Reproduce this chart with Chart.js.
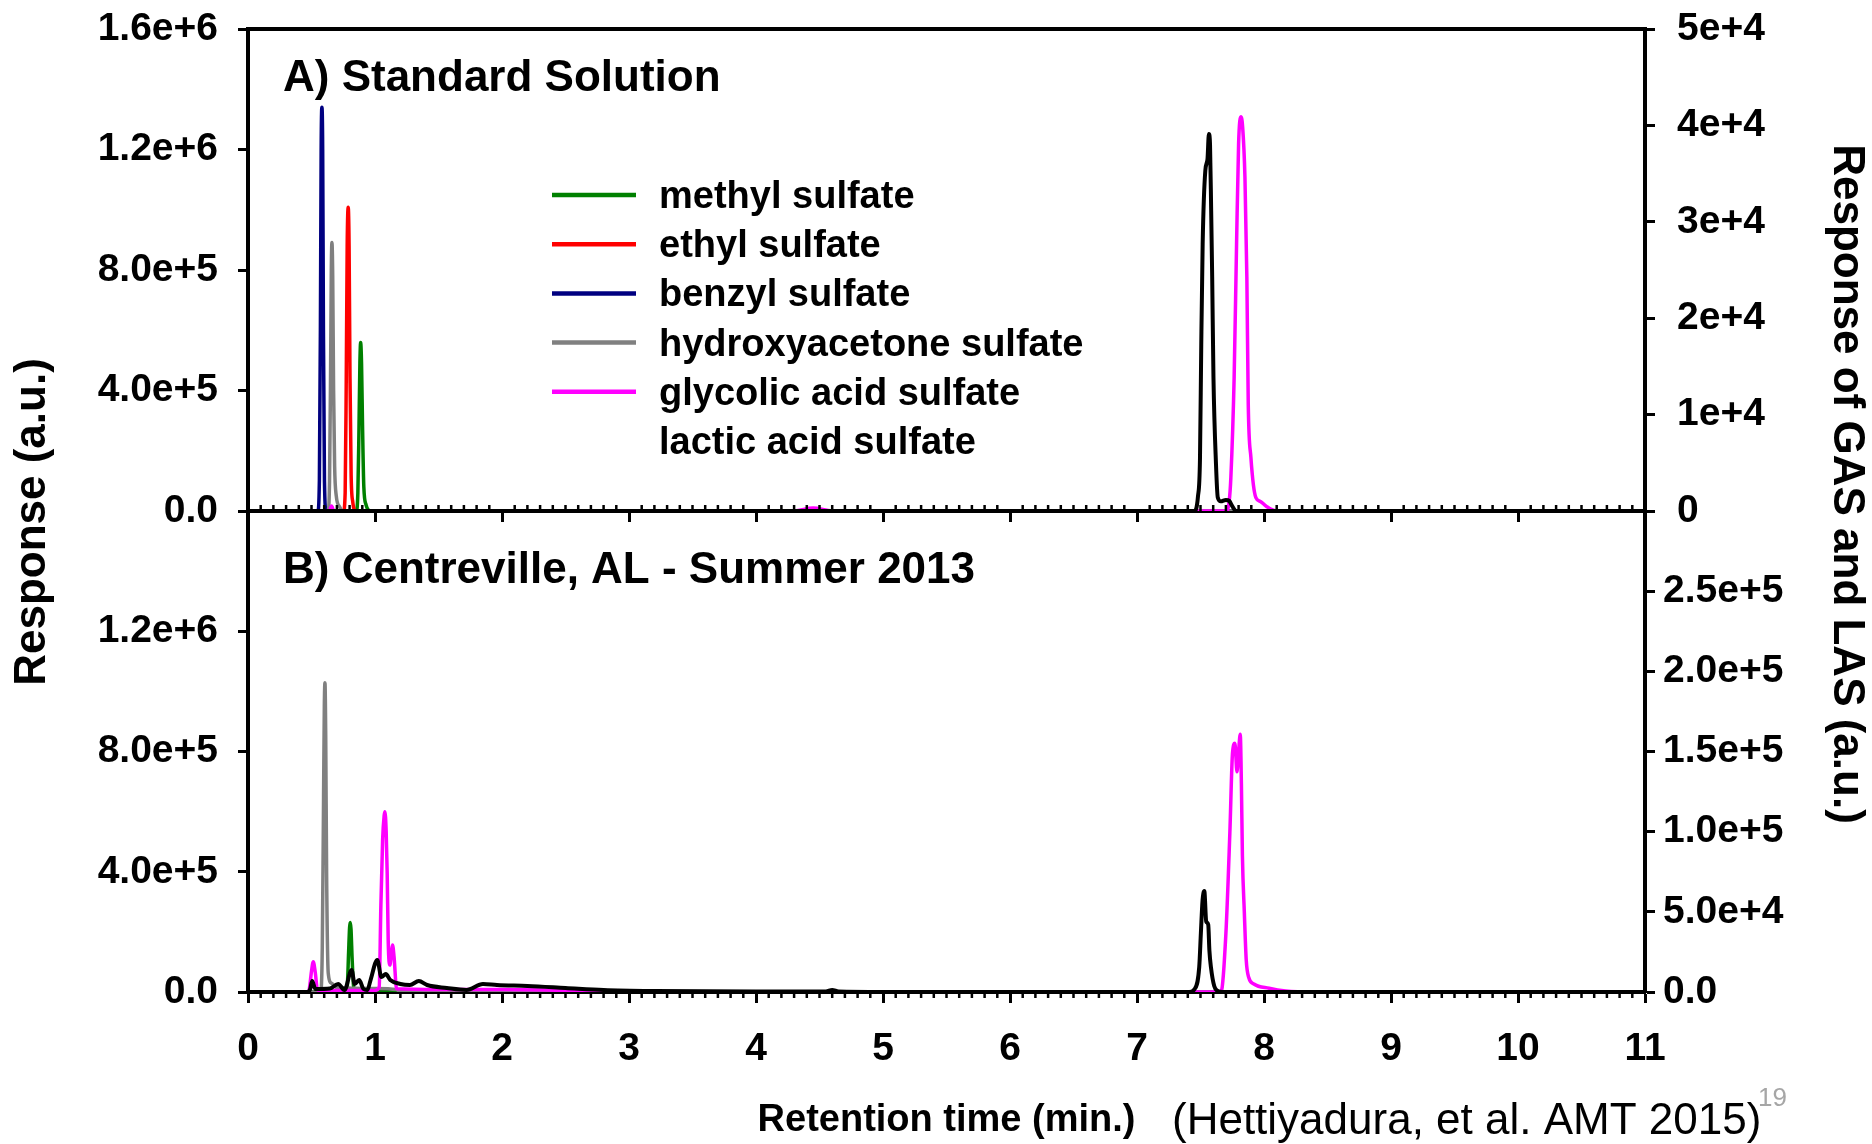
<!DOCTYPE html>
<html>
<head>
<meta charset="utf-8">
<script src="https://cdn.jsdelivr.net/npm/chart.js@4.4.1/dist/chart.umd.min.js"></script>
<style>
  html, body { margin: 0; padding: 0; background: #fff; }
  #wrap { position: relative; width: 1872px; height: 1144px; }
  canvas { position: absolute; left: 0; top: 0; }
</style>
</head>
<body>
<div id="wrap">
  <canvas id="panelA" width="1872" height="1144"></canvas>
  <canvas id="panelB" width="1872" height="1144"></canvas>
</div>
<script>
// compounds, colours and tick labels
const compounds = ['methyl sulfate', 'ethyl sulfate', 'benzyl sulfate', 'hydroxyacetone sulfate', 'glycolic acid sulfate', 'lactic acid sulfate'];
const colors = ['#008000', '#ff0000', '#000080', '#808080', '#ff00ff', '#000000'];
const legendLine = [true, true, true, true, true, false];

const xTickLabels = ['0', '1', '2', '3', '4', '5', '6', '7', '8', '9', '10', '11'];
const leftTickLabelsA = ['0.0', '4.0e+5', '8.0e+5', '1.2e+6', '1.6e+6'];
const leftTickLabelsB = ['0.0', '4.0e+5', '8.0e+5', '1.2e+6', ''];
const rightTickLabelsA = ['0', '1e+4', '2e+4', '3e+4', '4e+4', '5e+4'];
const rightTickLabelsB = ['0.0', '5.0e+4', '1.0e+5', '1.5e+5', '2.0e+5', '2.5e+5', ''];

// A) standard solution, left axis (retention time min / response)
const tMethylA = [0, 0.852, 0.865, 0.873, 0.881, 0.887, 0.894, 0.902, 0.912, 0.93, 0.965, 11];
const yMethylA = [0, 0, 6e4, 2.5e5, 4.9e5, 5.59e5, 4.9e5, 2.8e5, 8e4, 2e4, 0, 0];
const tEthylA = [0, 0.752, 0.765, 0.773, 0.781, 0.789, 0.796, 0.803, 0.812, 0.825, 0.85, 11];
const yEthylA = [0, 0, 6e4, 4e5, 8.8e5, 1.008e6, 8.8e5, 4.5e5, 1.2e5, 3e4, 0, 0];
const tBenzylA = [0, 0.55, 0.562, 0.570, 0.576, 0.582, 0.588, 0.594, 0.602, 0.615, 11];
const yBenzylA = [0, 0, 1e5, 6e5, 1.2e6, 1.34e6, 1.2e6, 6e5, 1e5, 0, 0];
const tHydroxyA = [0, 0.63, 0.642, 0.650, 0.656, 0.661, 0.667, 0.674, 0.682, 0.695, 0.72, 0.75, 11];
const yHydroxyA = [0, 0, 1e5, 4.5e5, 8e5, 8.91e5, 7.8e5, 4e5, 1.5e5, 5e4, 1.5e4, 0, 0];
// A) right axis
const tGasA = [0, 0.64, 0.658, 0.676, 4.30, 4.45, 4.60, 7.70, 7.726, 7.739, 7.765, 7.784, 7.800, 7.818, 7.832, 7.850, 7.865, 7.876, 7.897, 7.936, 7.97, 8.015, 8.10, 11];
const yGasA = [0, 0, 520, 0, 0, 300, 0, 0, 1040, 3460, 13900, 27700, 38100, 40900, 39800, 34600, 24300, 11100, 5540, 1380, 1000, 520, 0, 0];
const tLasA = [0, 7.45, 7.48, 7.496, 7.506, 7.517, 7.538, 7.555, 7.566, 7.575, 7.584, 7.592, 7.602, 7.622, 7.636, 7.66, 7.70, 7.726, 7.75, 7.78, 11];
const yLasA = [0, 0, 1500, 5500, 17300, 27700, 35300, 36500, 39100, 38000, 31200, 24300, 13900, 4850, 1400, 1000, 1150, 1050, 500, 0, 0];

// B) Centreville sample, left axis
const tMethylB = [0, 0.77, 0.782, 0.792, 0.80, 0.805, 0.811, 0.82, 0.83, 0.845, 11];
const yMethylB = [0, 0, 2e4, 1.3e5, 2.15e5, 2.31e5, 2.1e5, 1.1e5, 2.5e4, 0, 0];
const tHydroxyB = [0, 0.572, 0.585, 0.595, 0.601, 0.606, 0.612, 0.619, 0.632, 0.658, 0.70, 1.0, 1.17, 1.2, 11];
const yHydroxyB = [0, 0, 1.5e5, 6.5e5, 9.5e5, 1.029e6, 8.5e5, 3.95e5, 6.2e4, 2.9e4, 1.5e4, 1.2e4, 8e3, 0, 0];
// B) right axis
const tGasB = [0, 0.47, 0.482, 0.50, 0.514, 0.53, 0.545, 0.56, 1.0, 1.033, 1.046, 1.06, 1.072, 1.078, 1.088, 1.096, 1.104, 1.117, 1.13, 1.138, 1.15, 1.17, 1.5, 2.0, 2.6, 3.0, 7.60, 7.661, 7.70, 7.731, 7.752, 7.771, 7.787, 7.800, 7.813, 7.822, 7.83, 7.845, 7.86, 7.88, 7.92, 8.04, 8.17, 8.4, 11];
const yGasB = [0, 0, 1500, 1.3e4, 1.89e4, 1.2e4, 2000, 1000, 1000, 3000, 5.3e4, 9.5e4, 1.1e5, 1.125e5, 1.0e5, 7.4e4, 3.2e4, 1.68e4, 2.5e4, 2.93e4, 2.2e4, 2000, 1500, 1500, 800, 0, 0, 0, 3.66e4, 9.9e4, 1.489e5, 1.551e5, 1.374e5, 1.5e5, 1.607e5, 1.30e5, 8.5e4, 5e4, 2e4, 9e3, 5e3, 2300, 600, 0, 0];
const tLasB = [0, 0.47, 0.49, 0.505, 0.53, 0.645, 0.71, 0.76, 0.816, 0.84, 0.875, 0.91, 0.94, 0.965, 1.018, 1.05, 1.085, 1.12, 1.20, 1.275, 1.345, 1.41, 1.565, 1.72, 1.85, 1.96, 2.2, 2.5, 2.8, 3.2, 4.0, 4.55, 4.6, 4.65, 5.0, 7.41, 7.45, 7.49, 7.503, 7.516, 7.530, 7.545, 7.561, 7.57, 7.582, 7.608, 7.63, 7.674, 11];
const yLasB = [0, 0, 1870, 6860, 1870, 2180, 4990, 1250, 13700, 4990, 7480, 1870, 1250, 7480, 19960, 9360, 11230, 7480, 4990, 4370, 6860, 4370, 2500, 1250, 4990, 4370, 3740, 2500, 1250, 620, 310, 310, 1250, 310, 0, 0, 1500, 15600, 36800, 57000, 63000, 44000, 42000, 26000, 15600, 3700, 1000, 0, 0];

const FONT = '"Liberation Sans", Arial, Helvetica, sans-serif';
const tickFont = { family: FONT, weight: 'bold', size: 39 };
// tiny line height keeps the end labels from pushing the plot area around
const yTickFont = { family: FONT, weight: 'bold', size: 39, lineHeight: 0.3 };

const pts = (t, y) => t.map((v, i) => ({ x: v, y: y[i] }));
function trace(idx, t, y, axis) {
  return {
    label: compounds[idx], data: pts(t, y), xAxisID: 'x', yAxisID: axis,
    borderColor: colors[idx], backgroundColor: colors[idx],
    borderWidth: idx === 5 ? 4 : 3.5, pointRadius: 0, fill: false,
    cubicInterpolationMode: 'monotone', borderJoinStyle: 'round',
    order: idx === 5 ? 0 : 6 - idx
  };
}

// small ticks every 0.1 min along the time axis
const minorTicks = {
  id: 'minorTicks',
  afterDraw(chart, args, o) {
    const xs = chart.scales.x, y0 = chart.chartArea.bottom, ctx = chart.ctx;
    ctx.save();
    ctx.strokeStyle = '#000';
    ctx.lineWidth = 2.5;
    ctx.beginPath();
    for (let k = 1; k < 110; k++) {
      if (k % 10 === 0) continue;
      const px = xs.getPixelForValue(k / 10);
      ctx.moveTo(px, y0);
      ctx.lineTo(px, y0 + o.dir * o.len);
    }
    ctx.stroke();
    ctx.restore();
  }
};

const compoundLegend = {
  id: 'compoundLegend',
  afterDraw(chart, args, o) {
    const ctx = chart.ctx;
    ctx.save();
    ctx.font = 'bold 38px ' + FONT;
    ctx.fillStyle = '#000';
    ctx.textBaseline = 'alphabetic';
    compounds.forEach((name, i) => {
      const y = o.top + i * o.gap;
      if (legendLine[i]) {
        ctx.strokeStyle = colors[i];
        ctx.lineWidth = 4.5;
        ctx.beginPath();
        ctx.moveTo(o.x0, y);
        ctx.lineTo(o.x1, y);
        ctx.stroke();
      }
      ctx.fillText(name, o.tx, y + 13);
    });
    ctx.restore();
  }
};

const pageText = {
  id: 'pageText',
  afterDraw(chart, args, o) {
    const ctx = chart.ctx;
    o.items.forEach(it => {
      ctx.save();
      ctx.font = it.font;
      ctx.fillStyle = it.color || '#000';
      ctx.textAlign = it.align || 'left';
      ctx.textBaseline = it.baseline || 'alphabetic';
      ctx.translate(it.x, it.y);
      if (it.rot) ctx.rotate(it.rot);
      ctx.fillText(it.text, 0, 0);
      ctx.restore();
    });
  }
};

function yAxis(pos, max, step, labels, width, pad) {
  return {
    type: 'linear', position: pos, min: 0, max: max,
    border: { color: '#000', width: 4 },
    grid: { drawOnChartArea: false, drawTicks: true, tickLength: 10, tickWidth: 3, tickColor: '#000' },
    ticks: { stepSize: step, color: '#000', font: yTickFont, padding: pad,
             callback: (v, i) => labels[i] },
    afterFit: s => { s.width = width; }
  };
}

function xAxis(showLabels, height) {
  return {
    type: 'linear', position: 'bottom', min: 0, max: 11,
    border: { color: '#000', width: 4 },
    grid: { drawOnChartArea: false, drawTicks: true, tickLength: 11, tickWidth: 3, tickColor: '#000' },
    ticks: { display: showLabels, stepSize: 1, autoSkip: false, maxRotation: 0, color: '#000',
             font: tickFont, padding: 23, callback: (v, i) => xTickLabels[i] },
    title: { display: showLabels, text: 'Retention time (min.)', color: '#000',
             font: { family: FONT, weight: 'bold', size: 38 }, padding: { top: 0, bottom: 1 } },
    afterFit: s => { s.height = height; }
  };
}

const common = {
  responsive: false,
  animation: false,
  events: []
};

new Chart(document.getElementById('panelA'), {
  type: 'line',
  data: {
    datasets: [
      trace(0, tMethylA, yMethylA, 'yL'),
      trace(1, tEthylA, yEthylA, 'yL'),
      trace(2, tBenzylA, yBenzylA, 'yL'),
      trace(3, tHydroxyA, yHydroxyA, 'yL'),
      trace(4, tGasA, yGasA, 'yR'),
      trace(5, tLasA, yLasA, 'yR')
    ]
  },
  options: Object.assign({}, common, {
    layout: { autoPadding: false, padding: { top: 29, bottom: 1144 - 511 - 20, left: 0, right: 0 } },
    scales: {
      x: xAxis(false, 20),
      xTop: {
        type: 'linear', position: 'top', min: 0, max: 11,
        border: { color: '#000', width: 4 },
        grid: { drawOnChartArea: false, drawTicks: false },
        ticks: { display: false },
        afterFit: s => { s.height = 0; }
      },
      yL: yAxis('left', 1.6e6, 4e5, leftTickLabelsA, 248, 20),
      yR: yAxis('right', 5e4, 1e4, rightTickLabelsA, 227, 22)
    },
    plugins: {
      legend: { display: false },
      tooltip: { enabled: false },
      minorTicks: { dir: -1, len: 6 },
      compoundLegend: { top: 195, gap: 49.2, x0: 552, x1: 636, tx: 659 },
      pageText: { items: [
        { text: 'A) Standard Solution', x: 283, y: 91, font: 'bold 44px ' + FONT }
      ] }
    }
  }),
  plugins: [minorTicks, compoundLegend, pageText]
});

new Chart(document.getElementById('panelB'), {
  type: 'line',
  data: {
    datasets: [
      trace(0, tMethylB, yMethylB, 'yL'),
      trace(3, tHydroxyB, yHydroxyB, 'yL'),
      trace(4, tGasB, yGasB, 'yR'),
      trace(5, tLasB, yLasB, 'yR')
    ]
  },
  options: Object.assign({}, common, {
    layout: { autoPadding: false, padding: { top: 511, bottom: 0, left: 0, right: 0 } },
    scales: {
      x: xAxis(true, 1144 - 992),
      yL: yAxis('left', 1.6e6, 4e5, leftTickLabelsB, 248, 20),
      yR: yAxis('right', 3e5, 5e4, rightTickLabelsB, 227, 8)
    },
    plugins: {
      legend: { display: false },
      tooltip: { enabled: false },
      minorTicks: { dir: 1, len: 6 },
      pageText: { items: [
        { text: 'B) Centreville, AL - Summer 2013', x: 283, y: 583, font: 'bold 44px ' + FONT },
        { text: 'Response (a.u.)', x: 33, y: 522, rot: -Math.PI / 2, align: 'center', baseline: 'middle', font: 'bold 44px ' + FONT },
        { text: 'Response of GAS and LAS (a.u.)', x: 1846, y: 484, rot: Math.PI / 2, align: 'center', baseline: 'middle', font: 'bold 44px ' + FONT },
        { text: '(Hettiyadura, et al. AMT 2015)', x: 1172, y: 1134, font: '44px ' + FONT },
        { text: '19', x: 1758, y: 1106, color: '#a6a6a6', font: '26px ' + FONT }
      ] }
    }
  }),
  plugins: [minorTicks, pageText]
});
</script>
</body>
</html>
